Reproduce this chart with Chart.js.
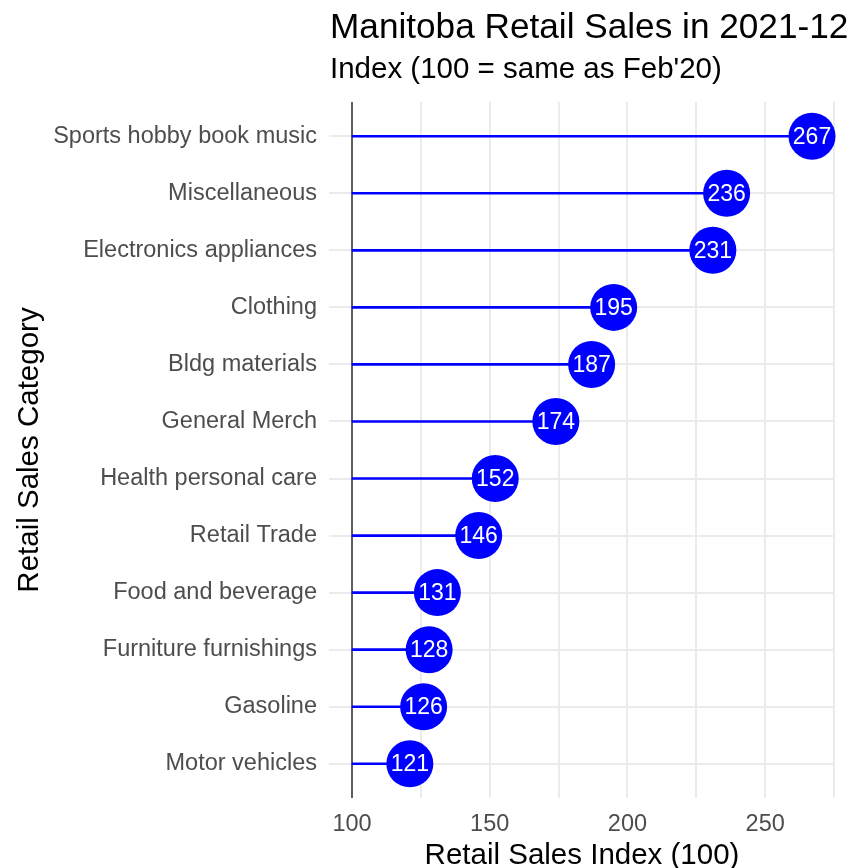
<!DOCTYPE html>
<html>
<head>
<meta charset="utf-8">
<script src="https://cdn.jsdelivr.net/npm/chart.js@4"></script>
<style>
  body { margin: 0; background: #ffffff; }
</style>
</head>
<body>
<canvas id="lollipop-chart" width="851" height="868"></canvas>
<script>
// Retail sales categories (top to bottom) and their index values
const categories = [
    'Sports hobby book music',
    'Miscellaneous',
    'Electronics appliances',
    'Clothing',
    'Bldg materials',
    'General Merch',
    'Health personal care',
    'Retail Trade',
    'Food and beverage',
    'Furniture furnishings',
    'Gasoline',
    'Motor vehicles'
];
const salesIndex = [267, 236, 231, 195, 187, 174, 152, 146, 131, 128, 126, 121];

// Baseline the lollipops start from
const baseline = 100;

// x gridlines and their labels (minor lines have no label)
const xGridValues = [100, 125, 150, 175, 200, 225, 250, 275];
const xTickLabels = ['100', '', '150', '', '200', '', '250', ''];

const chartTitle = 'Manitoba Retail Sales in 2021-12';
const chartSubtitle = "Index (100 = same as Feb'20)";

const fontFamily = "'Liberation Sans', Arial, sans-serif";

// Title and subtitle, left aligned with the plot panel
const titlePlugin = {
    id: 'titles',
    afterDraw(chart) {
        const ctx = chart.ctx;
        const left = chart.chartArea.left + 1;
        ctx.save();
        ctx.fillStyle = '#000000';
        ctx.textAlign = 'left';
        ctx.textBaseline = 'alphabetic';
        ctx.font = '35.2px ' + fontFamily;
        ctx.fillText(chartTitle, left, 38);
        ctx.font = '29.5px ' + fontFamily;
        ctx.fillText(chartSubtitle, left, 78);
        ctx.restore();
    }
};

// Dark vertical line at the baseline
const baselinePlugin = {
    id: 'baselineLine',
    beforeDatasetsDraw(chart) {
        const ctx = chart.ctx;
        const x = chart.scales.x.getPixelForValue(baseline);
        ctx.save();
        ctx.strokeStyle = '#5f5f5f';
        ctx.lineWidth = 2;
        ctx.beginPath();
        ctx.moveTo(x, chart.chartArea.top);
        ctx.lineTo(x, chart.chartArea.bottom);
        ctx.stroke();
        ctx.restore();
    }
};

// White value labels inside the circles
const valueLabelPlugin = {
    id: 'valueLabels',
    afterDatasetsDraw(chart) {
        const ctx = chart.ctx;
        const meta = chart.getDatasetMeta(1);
        ctx.save();
        ctx.fillStyle = '#ffffff';
        ctx.font = '23px ' + fontFamily;
        ctx.textAlign = 'center';
        ctx.textBaseline = 'middle';
        meta.data.forEach((point, i) => {
            ctx.fillText(String(salesIndex[i]), point.x, point.y + 1);
        });
        ctx.restore();
    }
};

const ctx = document.getElementById('lollipop-chart').getContext('2d');
new Chart(ctx, {
    type: 'bar',
    data: {
        datasets: [
            {
                // stems: floating bars from the baseline to the value
                type: 'bar',
                data: salesIndex.map((v, i) => ({ x: [baseline, v], y: i })),
                backgroundColor: '#0000ff',
                borderWidth: 0,
                barThickness: 2,
                clip: false
            },
            {
                type: 'scatter',
                data: salesIndex.map((v, i) => ({ x: v, y: i })),
                backgroundColor: '#0000ff',
                borderWidth: 0,
                pointRadius: 23.5,
                pointHoverRadius: 23.5,
                clip: false
            }
        ]
    },
    options: {
        responsive: false,
        animation: false,
        indexAxis: 'y',
        layout: {
            autoPadding: false,
            padding: { top: 102, right: 16, left: 0, bottom: 0 }
        },
        plugins: {
            legend: { display: false },
            tooltip: { enabled: false },
            title: { display: false }
        },
        scales: {
            x: {
                type: 'linear',
                min: 91.65,
                max: 275.35,
                offset: false,
                afterBuildTicks: scale => {
                    scale.ticks = xGridValues.map(v => ({ value: v }));
                },
                afterFit: scale => {
                    scale.height = 70;
                    scale.paddingLeft = 0;
                    scale.paddingRight = 0;
                },
                border: { display: false },
                grid: {
                    color: '#ebebeb',
                    lineWidth: 2,
                    drawTicks: false,
                    offset: false
                },
                ticks: {
                    padding: 12,
                    color: '#4d4d4d',
                    font: { family: fontFamily, size: 23.5 },
                    callback: (value) => xTickLabels[xGridValues.indexOf(value)]
                },
                title: {
                    display: true,
                    text: 'Retail Sales Index (100)',
                    color: '#000000',
                    font: { family: fontFamily, size: 29.5, lineHeight: 0.85 },
                    padding: { top: 0, bottom: 0 }
                }
            },
            y: {
                type: 'linear',
                min: -0.6,
                max: 11.6,
                reverse: true,
                offset: false,
                afterBuildTicks: scale => {
                    scale.ticks = categories.map((c, i) => ({ value: i }));
                },
                afterFit: scale => {
                    scale.width = 329;
                },
                border: { display: false },
                grid: {
                    color: '#ebebeb',
                    lineWidth: 2,
                    drawTicks: false,
                    offset: false
                },
                ticks: {
                    padding: 12,
                    color: '#4d4d4d',
                    font: { family: fontFamily, size: 23.5 },
                    callback: (value) => categories[value]
                },
                title: {
                    display: true,
                    text: 'Retail Sales Category',
                    color: '#000000',
                    font: { family: fontFamily, size: 29.5, lineHeight: 1 },
                    padding: { top: 15, bottom: 0 }
                }
            }
        }
    },
    plugins: [baselinePlugin, valueLabelPlugin, titlePlugin]
});
</script>
</body>
</html>
